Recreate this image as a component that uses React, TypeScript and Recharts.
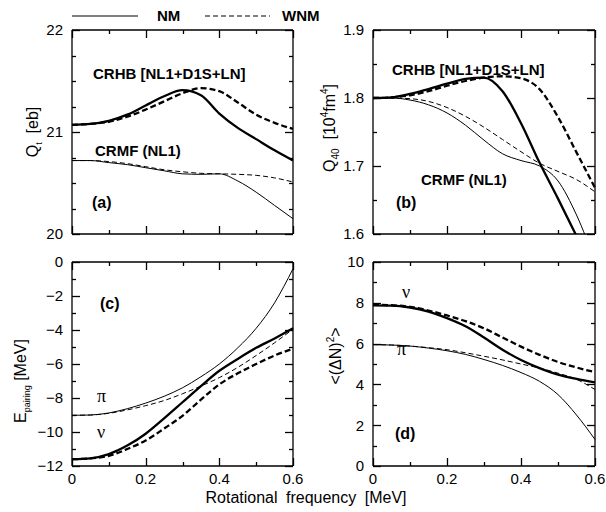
import React from 'react';
import { LineChart, Line, XAxis, YAxis, ReferenceLine } from 'recharts';

// rotational frequency grid [MeV]
const omega = [0, 0.05, 0.1, 0.15, 0.2, 0.25, 0.3, 0.35, 0.4, 0.45, 0.5, 0.55, 0.6];

// (a) transition quadrupole moment Q_t [eb]
const qtCrhbNM = [21.07, 21.08, 21.11, 21.17, 21.26, 21.35, 21.41, 21.36, 21.18, 21.04, 20.93, 20.82, 20.72];
const qtCrhbWNM = [21.07, 21.08, 21.1, 21.15, 21.22, 21.3, 21.38, 21.43, 21.4, 21.29, 21.17, 21.09, 21.03];
const qtCrmfNM = [20.72, 20.72, 20.7, 20.68, 20.65, 20.62, 20.59, 20.585, 20.59, 20.52, 20.41, 20.28, 20.15];
const qtCrmfWNM = [20.72, 20.72, 20.71, 20.69, 20.66, 20.63, 20.61, 20.595, 20.59, 20.585, 20.575, 20.55, 20.51];

// (b) hexadecapole moment Q_40 [10^4 fm^4]
const q40CrhbNM = [1.8, 1.801, 1.806, 1.813, 1.821, 1.828, 1.83, 1.81, 1.763, 1.705, 1.652, 1.597, 1.54];
const q40CrhbWNM = [1.8, 1.801, 1.804, 1.81, 1.818, 1.825, 1.83, 1.832, 1.829, 1.813, 1.772, 1.72, 1.668];
const q40CrmfNM = [1.8, 1.8, 1.797, 1.79, 1.778, 1.76, 1.738, 1.718, 1.708, 1.7, 1.678, 1.628, 1.56];
const q40CrmfWNM = [1.8, 1.8, 1.799, 1.795, 1.786, 1.773, 1.757, 1.739, 1.721, 1.704, 1.692, 1.68, 1.662];

// (c) pairing energies [MeV]
const epPiNM = [-9.02, -9.0, -8.88, -8.63, -8.3, -7.9, -7.4, -6.75, -6.0, -5.05, -3.9, -2.4, -0.4];
const epPiWNM = [-9.02, -9.0, -8.9, -8.7, -8.45, -8.15, -7.75, -7.3, -6.8, -6.2, -5.5, -4.75, -3.95];
const epNuNM = [-11.6, -11.55, -11.3, -10.8, -10.1, -9.2, -8.25, -7.3, -6.4, -5.7, -5.05, -4.5, -3.9];
const epNuWNM = [-11.6, -11.55, -11.4, -11.0, -10.5, -9.8, -9.05, -8.1, -7.2, -6.55, -6.0, -5.5, -5.1];

// (d) particle number fluctuations <(dN)^2>
const dnNuNM = [7.87, 7.86, 7.77, 7.57, 7.25, 6.85, 6.3, 5.7, 5.2, 4.8, 4.48, 4.27, 4.1];
const dnNuWNM = [7.9, 7.88, 7.8, 7.62, 7.38, 7.1, 6.75, 6.3, 5.85, 5.45, 5.1, 4.83, 4.6];
const dnPiNM = [5.95, 5.93, 5.88, 5.78, 5.65, 5.47, 5.22, 4.93, 4.58, 4.15, 3.5, 2.5, 1.3];
const dnPiWNM = [5.95, 5.93, 5.88, 5.8, 5.7, 5.55, 5.38, 5.2, 5.0, 4.8, 4.55, 4.25, 3.75];

// ticks
const xTicks = [0, 0.1, 0.2, 0.3, 0.4, 0.5, 0.6];
const xLabels = [0, 0.2, 0.4, 0.6];
const yTicksA = [20, 20.25, 20.5, 20.75, 21, 21.25, 21.5, 21.75, 22];
const yLabelsA = [20, 21, 22];
const yTicksB = [1.6, 1.65, 1.7, 1.75, 1.8, 1.85, 1.9];
const yLabelsB = [1.6, 1.7, 1.8, 1.9];
const yTicksC = [-12, -11, -10, -9, -8, -7, -6, -5, -4, -3, -2, -1, 0];
const yLabelsC = [-12, -10, -8, -6, -4, -2, 0];
const yTicksD = [0, 1, 2, 3, 4, 5, 6, 7, 8, 9, 10];
const yLabelsD = [0, 2, 4, 6, 8, 10];

const FONT = '"Liberation Sans", Arial, Helvetica, sans-serif';
const SERIF = '"Liberation Serif", "Times New Roman", serif';
const X_MAX = 0.6;

const build = (s1: number[], s2: number[], s3: number[], s4: number[]) =>
  omega.map((w, i) => ({ w, s1: s1[i], s2: s2[i], s3: s3[i], s4: s4[i] }));

const fmt = (v: number) => String(Number(v.toFixed(3))).replace('-', '\u2212');
const has = (arr: number[], v: number) => arr.some((m) => Math.abs(m - v) < 1e-6);

type Series = { key: string; width: number; dash?: string };

// thick = CRHB / neutrons, thin = CRMF / protons
const series: Series[] = [
  { key: 's1', width: 2.3 },
  { key: 's2', width: 2.3, dash: '6 3' },
  { key: 's3', width: 1 },
  { key: 's4', width: 1, dash: '5 3' },
];

type Geo = {
  left: number;
  top: number;
  w: number;
  h: number;
  domain: [number, number];
  yTicks: number[];
  yLabels: number[];
};

const geoA: Geo = { left: 72, top: 30, w: 221, h: 204, domain: [20, 22], yTicks: yTicksA, yLabels: yLabelsA };
const geoB: Geo = { left: 373, top: 30, w: 222, h: 204, domain: [1.6, 1.9], yTicks: yTicksB, yLabels: yLabelsB };
const geoC: Geo = { left: 72, top: 262, w: 221, h: 204, domain: [-12, 0], yTicks: yTicksC, yLabels: yLabelsC };
const geoD: Geo = { left: 373, top: 262, w: 222, h: 204, domain: [0, 10], yTicks: yTicksD, yLabels: yLabelsD };

const Panel = ({ geo, rows, showX }: { geo: Geo; rows: any[]; showX: boolean }) => {
  const { left, top, w, h, domain, yTicks, yLabels } = geo;
  const yTick = (p: any) => {
    const v = p.payload.value;
    if (!has(yLabels, v)) return <g />;
    return (
      <text x={Number(p.x) - 9} y={Number(p.y)} dy="0.36em" textAnchor="end" fontSize={15} fontFamily={FONT} fill="#000">
        {fmt(v)}
      </text>
    );
  };
  const xTick = (p: any) => {
    const v = p.payload.value;
    if (!showX || !has(xLabels, v)) return <g />;
    return (
      <text x={Number(p.x)} y={Number(p.y) + 18} textAnchor="middle" fontSize={15} fontFamily={FONT} fill="#000">
        {fmt(v)}
      </text>
    );
  };
  return (
    <div style={{ position: 'absolute', left: left - 60, top: top - 10 }}>
      <LineChart width={w + 70} height={h + 40} data={rows} margin={{ top: 10, right: 10, left: 0, bottom: 0 }}>
        <XAxis
          dataKey="w"
          type="number"
          domain={[0, X_MAX]}
          ticks={xTicks}
          interval={0}
          height={30}
          tickSize={0}
          tickMargin={0}
          tickLine={false}
          axisLine={{ stroke: '#000', strokeWidth: 1.3 }}
          tick={xTick}
        />
        <YAxis
          type="number"
          domain={domain}
          allowDataOverflow
          ticks={yTicks}
          interval={0}
          width={60}
          tickSize={0}
          tickMargin={0}
          tickLine={false}
          axisLine={{ stroke: '#000', strokeWidth: 1.3 }}
          tick={yTick}
        />
        <ReferenceLine x={X_MAX} stroke="#000" strokeWidth={1.3} />
        <ReferenceLine y={domain[1]} stroke="#000" strokeWidth={1.3} />
        {series.map((s) => (
          <Line
            key={s.key}
            dataKey={s.key}
            type="monotone"
            stroke="#000"
            strokeWidth={s.width}
            strokeDasharray={s.dash}
            dot={false}
            activeDot={false}
            isAnimationActive={false}
          />
        ))}
      </LineChart>
    </div>
  );
};

// inward tick marks on all four sides of a panel frame (major 8px, minor 4px)
const FrameTicks = ({ geo }: { geo: Geo }) => {
  const { left, top, w, h, domain, yTicks, yLabels } = geo;
  const [lo, hi] = domain;
  const marks: React.ReactNode[] = [];
  yTicks.forEach((v, i) => {
    const len = has(yLabels, v) ? 8 : 4;
    const y = Math.round(top + ((hi - v) / (hi - lo)) * h) + 0.5;
    marks.push(<line key={'yl' + i} x1={left} x2={left + len} y1={y} y2={y} />);
    marks.push(<line key={'yr' + i} x1={left + w} x2={left + w - len} y1={y} y2={y} />);
  });
  xTicks.forEach((u, i) => {
    const len = has(xLabels, u) ? 8 : 4;
    const x = Math.round(left + (u / X_MAX) * w) + 0.5;
    marks.push(<line key={'xb' + i} x1={x} x2={x} y1={top + h} y2={top + h - len} />);
    marks.push(<line key={'xt' + i} x1={x} x2={x} y1={top} y2={top + len} />);
  });
  return (
    <g stroke="#000" strokeWidth={1.3}>
      {marks}
    </g>
  );
};

const txt = { fontFamily: FONT, fill: '#000' } as const;

export default function App() {
  return (
    <div style={{ position: 'absolute', left: 0, top: 0, width: 606, height: 512, background: '#fff' }}>
      <Panel geo={geoA} rows={build(qtCrhbNM, qtCrhbWNM, qtCrmfNM, qtCrmfWNM)} showX={false} />
      <Panel geo={geoB} rows={build(q40CrhbNM, q40CrhbWNM, q40CrmfNM, q40CrmfWNM)} showX={false} />
      <Panel geo={geoC} rows={build(epNuNM, epNuWNM, epPiNM, epPiWNM)} showX />
      <Panel geo={geoD} rows={build(dnNuNM, dnNuWNM, dnPiNM, dnPiWNM)} showX />

      <svg width={606} height={512} style={{ position: 'absolute', left: 0, top: 0, pointerEvents: 'none' }}>
        <FrameTicks geo={geoA} />
        <FrameTicks geo={geoB} />
        <FrameTicks geo={geoC} />
        <FrameTicks geo={geoD} />

        {/* legend */}
        <line x1={72} x2={138} y1={16} y2={16} stroke="#000" strokeWidth={1.2} />
        <text x={157} y={21} fontSize={15} fontWeight="bold" {...txt}>NM</text>
        <line x1={205} x2={270} y1={16} y2={16} stroke="#000" strokeWidth={1.2} strokeDasharray="5 3" />
        <text x={282} y={21} fontSize={15} fontWeight="bold" {...txt}>WNM</text>

        {/* panel annotations */}
        <text x={93} y={79} fontSize={15} fontWeight="bold" {...txt}>CRHB [NL1+D1S+LN]</text>
        <text x={95} y={156} fontSize={15} fontWeight="bold" {...txt}>CRMF (NL1)</text>
        <text x={92} y={208} fontSize={16} fontWeight="bold" {...txt}>(a)</text>

        <text x={392} y={75} fontSize={15} fontWeight="bold" {...txt}>CRHB [NL1+D1S+LN]</text>
        <text x={421} y={185} fontSize={15} fontWeight="bold" {...txt}>CRMF (NL1)</text>
        <text x={396} y={208} fontSize={16} fontWeight="bold" {...txt}>(b)</text>

        <text x={100} y={309} fontSize={16} fontWeight="bold" {...txt}>(c)</text>
        <text x={97} y={402} fontSize={18} fontFamily={SERIF} fill="#000">π</text>
        <text x={97} y={438} fontSize={18} fontFamily={SERIF} fill="#000">ν</text>

        <text x={402} y={298} fontSize={18} fontFamily={SERIF} fill="#000">ν</text>
        <text x={397} y={355} fontSize={18} fontFamily={SERIF} fill="#000">π</text>
        <text x={395} y={439} fontSize={16} fontWeight="bold" {...txt}>(d)</text>

        {/* axis titles */}
        <text transform="translate(38,132) rotate(-90)" textAnchor="middle" fontSize={16} {...txt}>
          Q<tspan fontSize={9} dy={4}>t</tspan>
          <tspan dy={-4}>{'\u00a0 [eb]'}</tspan>
        </text>
        <text transform="translate(335,128) rotate(-90)" textAnchor="middle" fontSize={16} {...txt}>
          Q<tspan fontSize={10} dy={4}>40</tspan>
          <tspan dy={-4}>{'\u00a0 [10'}</tspan>
          <tspan fontSize={10} dy={-7}>4</tspan>
          <tspan dy={7}>fm</tspan>
          <tspan fontSize={10} dy={-7}>4</tspan>
          <tspan dy={7}>]</tspan>
        </text>
        <text transform="translate(26,381) rotate(-90)" textAnchor="middle" fontSize={16} {...txt}>
          E<tspan fontSize={9} dy={4}>pairing</tspan>
          <tspan dy={-4}> [MeV]</tspan>
        </text>
        <text transform="translate(341,356) rotate(-90)" textAnchor="middle" fontSize={16} {...txt}>
          {'<(ΔN)'}
          <tspan fontSize={10} dy={-7}>2</tspan>
          <tspan dy={7}>{'>'}</tspan>
        </text>
        <text x={306} y={503} textAnchor="middle" fontSize={16} wordSpacing={4} {...txt}>
          Rotational frequency [MeV]
        </text>
      </svg>
    </div>
  );
}
